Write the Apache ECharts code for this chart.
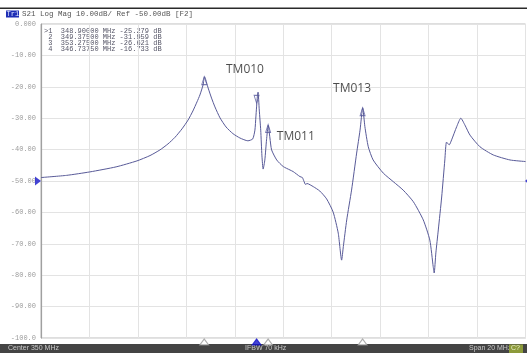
<!DOCTYPE html>
<html>
<head>
<meta charset="utf-8">
<script src="https://cdn.jsdelivr.net/npm/echarts@6/dist/echarts.min.js"></script>
<style>
html,body{margin:0;padding:0;background:#fff;}
#c{width:527px;height:353px;}
</style>
</head>
<body>
<div id="c"></div>
<script>
// ---- data ----
const freqMHz = [340.00,341.06,342.02,343.10,343.96,344.50,344.91,345.24,345.53,345.82,346.07,346.27,346.44,346.56,346.69,346.75,
  346.90,347.04,347.18,347.39,347.64,347.92,348.21,348.54,348.74,348.83,348.87,348.93,348.96,349.01,349.07,349.12,349.17,
  349.24,349.31,349.38,349.45,349.52,349.73,350.00,350.28,350.41,350.69,350.79,350.85,350.92,350.98,351.24,351.51,351.79,
  352.06,352.27,352.41,352.48,352.62,352.82,353.03,353.17,353.28,353.37,353.51,353.71,354.13,354.54,354.95,355.37,355.78,
  356.05,356.19,356.23,356.30,356.40,356.54,356.67,356.74,356.85,356.95,357.16,357.33,357.50,357.71,358.12,358.67,359.36,360.00];
const s21dB = [-48.9,-48.2,-47.1,-45.5,-43.6,-41.9,-40.1,-38.2,-36.1,-33.4,-30.6,-27.7,-24.8,-22.6,-19.4,-16.8,
  -20.4,-23.6,-26.4,-29.9,-32.8,-34.9,-36.3,-37.2,-36.6,-33.8,-29.6,-23.2,-21.7,-27.4,-33.8,-42.0,-46.2,
  -43.3,-36.9,-32.3,-36.3,-40.1,-43.3,-45.4,-46.5,-47.0,-48.6,-48.9,-50.0,-51.1,-50.8,-51.8,-53.2,-55.7,
  -59.9,-66.6,-75.2,-70.9,-62.4,-52.9,-41.1,-33.8,-26.7,-32.7,-39.1,-43.3,-47.5,-50.2,-52.9,-56.6,-62.4,
  -68.8,-77.3,-79.3,-72.9,-65.6,-55.1,-43.3,-37.6,-38.5,-36.9,-32.7,-30.0,-32.2,-35.4,-39.1,-41.7,-43.3,-43.8];

const markerIds = ['>1', '2', '3', '4'];
const markerFreq = [348.90000, 349.37500, 353.27500, 346.73750];
const markerDb = [-25.279, -31.959, -26.621, -16.733];
const activeMarker = 0;

const yTickValues = [0,-10,-20,-30,-40,-50,-60,-70,-80,-90,-100];
const yTickLabels = ['0.000','-10.00','-20.00','-30.00','-40.00','-50.00','-60.00','-70.00','-80.00','-90.00','-100.0'];

const modeNames = ['TM010', 'TM011', 'TM013'];
const modeFreq = [348.42, 350.52, 352.84];
const modeDb = [-14.6, -36.0, -20.7];

const refLevelDb = -50;
const headerText = 'S21 Log Mag 10.00dB/ Ref -50.00dB [F2]';
const footerLeft = 'Center 350 MHz';
const footerMid = 'IFBW 70 kHz';
const footerRight = 'Span 20 MHz';

// ---- chart ----
const chart = echarts.init(document.getElementById('c'), null, {renderer: 'canvas'});
const mono = '"Liberation Mono","DejaVu Sans Mono",monospace';

const tableLines = markerIds.map((id, i) =>
  (id.length === 1 ? ' ' + id : id) + '  ' + markerFreq[i].toFixed(5) + ' MHz ' + markerDb[i].toFixed(3) + ' dB');

const graphics = [
  {type: 'rect', shape: {x: 0, y: 7.5, width: 527, height: 1.5}, style: {fill: '#2a2a2a'}, silent: true},
  {type: 'rect', shape: {x: 6, y: 10.5, width: 13, height: 7}, style: {fill: '#1f2fb5'}},
  {type: 'text', left: 6.5, top: 10.5, style: {text: 'Tr1', font: '7px ' + mono, fill: '#dfe6ff'}},
  {type: 'text', left: 22, top: 10, style: {text: headerText, font: '7.5px ' + mono, fill: '#555'}},
  {type: 'rect', shape: {x: 0, y: 344, width: 527, height: 9}, style: {fill: '#444444'}},
  {type: 'text', left: 8, top: 345, style: {text: footerLeft, font: '7px "Liberation Sans",sans-serif', fill: '#c9c9c9'}},
  {type: 'text', left: 245, top: 345, style: {text: footerMid, font: '7px "Liberation Sans",sans-serif', fill: '#c9c9c9'}},
  {type: 'text', left: 469, top: 345, style: {text: footerRight, font: '7px "Liberation Sans",sans-serif', fill: '#c9c9c9'}},
  {type: 'rect', shape: {x: 509, y: 344.5, width: 14, height: 8.5}, style: {fill: '#8c9a3a'}},
  {type: 'text', left: 511, top: 345, style: {text: 'C?', font: '7px "Liberation Sans",sans-serif', fill: '#e8eccc'}}
];
tableLines.forEach((t, i) => {
  graphics.push({type: 'text', left: 44, top: 27.5 + i * 6, style: {text: t, font: '7px ' + mono, fill: '#555566'}});
});

chart.setOption({
  animation: false,
  backgroundColor: '#fff',
  grid: {left: 41, right: 1.5, top: 24, bottom: 15, show: true, borderColor: '#bdbdbd', borderWidth: 1},
  xAxis: {
    type: 'value', min: 340, max: 360, interval: 2,
    axisLabel: {show: false}, axisTick: {show: false}, axisLine: {show: false},
    splitLine: {show: true, lineStyle: {color: '#e3e3e3', width: 1}}
  },
  yAxis: {
    type: 'value', min: -100, max: 0, interval: 10,
    axisLabel: {
      margin: 5, fontFamily: mono, fontSize: 7, color: '#9c9c9c',
      formatter: v => { const k = yTickValues.indexOf(Math.round(v)); return k >= 0 ? yTickLabels[k] : ''; }
    },
    axisTick: {show: false},
    axisLine: {show: true, lineStyle: {color: '#a0a0a0', width: 1.2}},
    splitLine: {show: true, lineStyle: {color: '#e3e3e3', width: 1}}
  },
  series: [
    {
      type: 'line', data: freqMHz.map((f, i) => [f, s21dB[i]]),
      showSymbol: false, smooth: 0.2,
      lineStyle: {color: '#585a98', width: 1}
    },
    {
      type: 'scatter', clip: false,
      data: markerFreq.map((f, i) => ({value: [f, markerDb[i]], symbolRotate: i === activeMarker ? 180 : 0,
        symbolOffset: i === activeMarker ? [0, -4] : [0, 4]})),
      symbol: 'triangle', symbolSize: [5, 8],
      itemStyle: {color: 'rgba(255,255,255,0)', borderColor: '#5a5ca0', borderWidth: 1}
    },
    {
      type: 'scatter', clip: false,
      data: markerFreq.map((f, i) => ({value: [f, -100],
        itemStyle: i === activeMarker ? {color: '#1414c8', borderColor: '#1414c8'} : {color: '#fff', borderColor: '#9a9a9a'}})),
      symbol: 'triangle', symbolSize: [9, 6], symbolOffset: [0, 4],
      itemStyle: {borderWidth: 1}
    },
    {
      type: 'scatter', clip: false,
      data: [{value: [340, refLevelDb], symbol: 'path://M0,0 L10,6 L0,12 Z', symbolOffset: [-3, 0], symbolSize: [6, 9]},
             {value: [360, refLevelDb], symbol: 'path://M10,0 L0,6 L10,12 Z', symbolOffset: [1, 0], symbolSize: [3, 5]}],
      itemStyle: {color: '#1414c8'}
    },
    {
      type: 'scatter', clip: false,
      data: modeNames.map((n, i) => ({name: n, value: [modeFreq[i], modeDb[i]]})),
      symbolSize: 0,
      label: {show: true, position: 'inside', formatter: p => p.name,
        fontFamily: '"Open Sans",sans-serif', fontSize: 12, color: '#1e1e1e'}
    }
  ],
  graphic: graphics
});
</script>
</body>
</html>
